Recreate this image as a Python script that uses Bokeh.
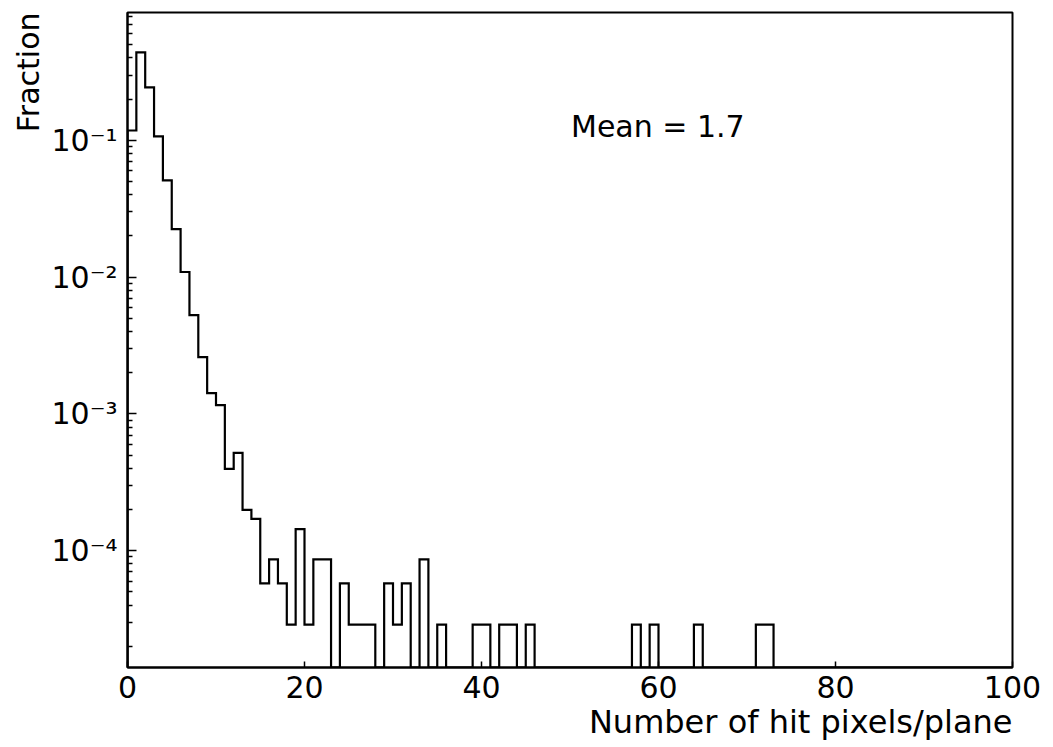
from bokeh.plotting import figure
from bokeh.models import Range1d, FixedTicker, Label, Title, CustomJSTickFormatter
from bokeh.embed import file_html
from bokeh.resources import INLINE

# ---------------- data ----------------
bin_edges = list(range(0, 101))          # 100 bins of width 1 (hit pixels per plane)
fraction = [
    0.118, 0.44, 0.244, 0.107, 0.051, 0.0224, 0.0109, 0.00528, 0.0026, 0.00142,
    0.00116, 0.000397, 0.000519, 0.000199, 0.000171, 5.76e-5, 8.64e-5, 5.76e-5, 2.88e-5, 1.44e-4,
    2.88e-5, 8.64e-5, 8.64e-5, 0, 5.76e-5, 2.88e-5, 2.88e-5, 2.88e-5, 0, 5.76e-5,
    2.88e-5, 5.76e-5, 0, 8.64e-5, 0, 2.88e-5, 0, 0, 0, 2.88e-5,
    2.88e-5, 0, 2.88e-5, 2.88e-5, 0, 2.88e-5, 0, 0, 0, 0,
    0, 0, 0, 0, 0, 0, 0, 2.88e-5, 0, 2.88e-5,
    0, 0, 0, 0, 2.88e-5, 0, 0, 0, 0, 0,
    0, 2.88e-5, 2.88e-5, 0, 0, 0, 0, 0, 0, 0,
    0, 0, 0, 0, 0, 0, 0, 0, 0, 0,
    0, 0, 0, 0, 0, 0, 0, 0, 0, 0,
]
x_ticks = [0, 20, 40, 60, 80, 100]
y_major = [1e-4, 1e-3, 1e-2, 1e-1]
y_tick_labels = ["10\u207b\u2074", "10\u207b\u00b3", "10\u207b\u00b2", "10\u207b\u00b9"]
mean_text = "Mean = 1.7"
x_title = "Number of hit pixels/plane"
y_title = "Fraction"

X_MIN, X_MAX = 0, 100
Y_MIN, Y_MAX = 1.4e-5, 0.86

# minor log ticks (2..9 per decade) inside the range
y_minor = []
for e in range(-6, 1):
    for m in range(2, 10):
        t = m * 10.0 ** e
        if Y_MIN < t < Y_MAX:
            y_minor.append(t)

# step outline of the histogram
xs = [bin_edges[0]]
ys = [Y_MIN]
for i, v in enumerate(fraction):
    vv = v if v > 0 else Y_MIN
    xs += [bin_edges[i], bin_edges[i + 1]]
    ys += [vv, vv]
xs.append(bin_edges[-1])
ys.append(Y_MIN)

FONT = "DejaVu Sans"

p = figure(width=1044, height=746,
           x_range=Range1d(X_MIN, X_MAX), y_range=Range1d(Y_MIN, Y_MAX),
           y_axis_type="log", output_backend="svg", toolbar_location=None,
           min_border_left=127, min_border_right=32, min_border_top=12, min_border_bottom=79)
p.xgrid.visible = False
p.ygrid.visible = False
p.background_fill_color = "white"
p.border_fill_color = "white"
p.outline_line_color = "black"
p.outline_line_width = 2
p.outline_line_alpha = 1.0

for ax in (p.xaxis[0], p.yaxis[0]):
    ax.axis_line_color = "black"
    ax.axis_line_width = 2
    ax.major_tick_line_color = "black"
    ax.minor_tick_line_color = "black"
    ax.major_tick_line_width = 1.5
    ax.minor_tick_line_width = 1.5
    ax.major_tick_out = 0
    ax.minor_tick_out = 0
    ax.major_label_text_font = FONT
    ax.major_label_text_font_size = "30px"
    ax.major_label_text_color = "black"

p.xaxis.ticker = FixedTicker(ticks=x_ticks, minor_ticks=[])
p.xaxis.major_tick_in = 6
p.xaxis.minor_tick_in = 0
p.xaxis.major_label_standoff = 8

p.yaxis.ticker = FixedTicker(ticks=y_major, minor_ticks=y_minor)
p.yaxis.formatter = CustomJSTickFormatter(
    args=dict(majors=y_major, labs=y_tick_labels),
    code="""
        let best = 0, bd = Infinity;
        for (let i = 0; i < majors.length; i++) {
            const d = Math.abs(Math.log10(tick) - Math.log10(majors[i]));
            if (d < bd) { bd = d; best = i; }
        }
        return labs[best];
    """)
p.yaxis.major_tick_in = 9
p.yaxis.minor_tick_in = 5
p.yaxis.major_label_standoff = 10
p.yaxis.major_label_orientation = "horizontal"

p.line(xs, ys, line_color="black", line_width=2.2, line_join="miter")

# axis titles
p.add_layout(Title(text=x_title, align="right", text_font=FONT, text_font_size="32px",
                   text_font_style="normal", text_color="black", standoff=0, offset=0,
                   text_line_height=1.0), "below")
p.add_layout(Title(text=y_title, align="right", text_font=FONT, text_font_size="30px",
                   text_font_style="normal", text_color="black", standoff=6, offset=0), "left")

# annotation
p.add_layout(Label(x=50, y=Y_MAX, text=mean_text, x_offset=1, y_offset=-114,
                   text_align="left", text_baseline="alphabetic",
                   text_font=FONT, text_font_size="30px", text_color="black"))

open("out.html", "w").write(file_html(p, INLINE))
